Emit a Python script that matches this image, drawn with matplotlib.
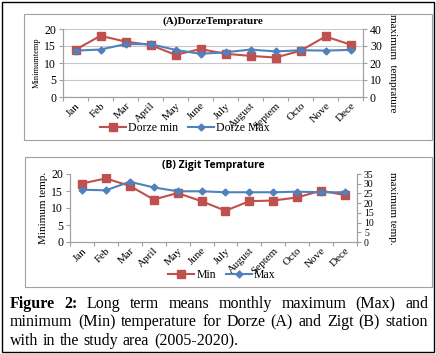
import matplotlib
matplotlib.use("Agg")
import matplotlib.pyplot as plt
from matplotlib.patches import Rectangle

months = ["Jan", "Feb", "Mar", "April", "May", "June", "July", "August",
          "Septem", "Octo", "Nove", "Dece"]

# (A) Dorze station
dorze_min = [13.9, 18.0, 16.3, 15.3, 12.4, 14.1, 12.7, 12.1, 11.6, 13.6, 17.8, 15.4]
dorze_max = [27.3, 27.9, 31.1, 31.1, 27.7, 25.4, 26.3, 27.9, 26.8, 27.5, 27.3, 27.7]

# (B) Zigit station
zigit_min = [17.2, 18.7, 16.5, 12.5, 14.4, 12.0, 9.2, 12.0, 12.2, 13.1, 15.1, 13.8]
zigit_max = [26.9, 26.6, 31.0, 28.1, 26.1, 26.1, 25.6, 25.6, 25.6, 25.9, 25.6, 25.6]

RED = "#C0504D"
BLUE = "#4F81BD"
GREY = "#A0A0A0"
SERIF = "Liberation Serif"

W, H = 436, 354
fig = plt.figure(figsize=(W / 100, H / 100), dpi=100)


def px_axes(x0, y0, x1, y1):
    return fig.add_axes([x0 / W, 1 - y1 / H, (x1 - x0) / W, (y1 - y0) / H])


def box(x0, y0, x1, y1, color, lw):
    fig.patches.append(Rectangle((x0 / W, 1 - y1 / H), (x1 - x0) / W, (y1 - y0) / H,
                                 transform=fig.transFigure, fill=False,
                                 edgecolor=color, linewidth=lw))


def panel(ax, mins, maxs, rmax, rstep, grid, min_lab, max_lab, title, tfont,
          tsize, lab_size, lx, rx, rsize):
    x = range(len(months))
    ax2 = ax.twinx()
    l1, = ax.plot(x, mins, color=RED, lw=1.5, marker="s", ms=5.5, zorder=3)
    l2, = ax2.plot(x, maxs, color=BLUE, lw=1.5, marker="D", ms=3.5, zorder=3)
    ax.set_xlim(-0.5, 11.5)
    ax.set_ylim(0, 20)
    ax.set_yticks(range(0, 21, 5))
    ax2.set_ylim(0, rmax)
    ax2.set_yticks(range(0, rmax + 1, rstep))
    ax.set_xticks([i + 0.5 for i in range(-1, 12)], minor=False)
    ax.set_xticklabels([])
    ax.set_xticks(list(x), minor=True)
    ax.set_xticklabels(months, minor=True, rotation=45, ha="right",
                       rotation_mode="anchor", fontsize=8, family=SERIF)
    ax.tick_params(axis="x", which="minor", length=0, pad=3)
    ax.tick_params(axis="x", which="major", length=3, color=GREY)
    ax.tick_params(axis="y", length=3, color=GREY, labelsize=8.5, pad=2)
    ax2.tick_params(axis="y", length=3, color=GREY, labelsize=rsize, pad=2)
    for lab in ax.get_yticklabels() + ax2.get_yticklabels():
        lab.set_family(SERIF)
    if grid:
        ax.yaxis.grid(True, color="#C8C8C8", lw=0.8)
    for a in (ax, ax2):
        a.spines["top"].set_visible(False)
        for s in ("left", "right", "bottom"):
            a.spines[s].set_color(GREY)
    ax.set_ylabel(min_lab, family=SERIF, fontsize=lab_size, va="center", ha="center")
    ax.yaxis.set_label_coords(lx, 0.5)
    ax2.set_ylabel(max_lab, family=SERIF, fontsize=8, rotation=-90,
                   va="center", ha="center")
    ax2.yaxis.set_label_coords(rx, 0.5)
    ax.set_title(title, fontsize=tsize, fontweight="bold", family=tfont, pad=4)
    return l1, l2


# panel A
box(24, 14, 432, 140, GREY, 0.8)
axA = px_axes(63, 29, 363, 97)
a1, a2 = panel(axA, dorze_min, dorze_max, 40, 10, True, "Minimumtemp",
               "maximum  temprature", "(A)DorzeTemprature", SERIF, 8, 6,
               -0.087, 1.097, 8.5)
fig.legend([a1, a2], ["Dorze min", "Dorze Max"], loc="center",
           bbox_to_anchor=(185 / W, 1 - 128 / H), ncol=2, frameon=False,
           prop={"family": SERIF, "size": 8.5}, handlelength=2.2,
           columnspacing=0.8, handletextpad=0.2, borderaxespad=0)

# panel B
box(25, 157, 432, 287, GREY, 0.8)
axB = px_axes(70, 174, 357, 242)
b1, b2 = panel(axB, zigit_min, zigit_max, 35, 5, False, "Minimum temp.",
               "maximum temp.", "(B) Zigit Temprature", "Open Sans", 7.5, 8,
               -0.094, 1.125, 7)
fig.legend([b1, b2], ["Min", "Max"], loc="center",
           bbox_to_anchor=(222 / W, 1 - 275 / H), ncol=2, frameon=False,
           prop={"family": SERIF, "size": 8.5}, handlelength=2.2,
           columnspacing=0.8, handletextpad=0.2, borderaxespad=0)

# outer frame
box(2, 2, 434, 352, "black", 1.0)

# caption, justified by hand
caption = [
    "Figure 2: Long term means monthly maximum (Max) and",
    "minimum (Min) temperature for Dorze (A) and Zigt (B) station",
    "with in the study area (2005-2020).",
]
fig.canvas.draw()
renderer = fig.canvas.get_renderer()
left, right = 10, 428
for li, line in enumerate(caption):
    y = 1 - (304 + li * 18.5) / H
    words = line.split(" ")
    texts = []
    for wi, w in enumerate(words):
        bold = li == 0 and wi < 2
        t = fig.text(0, y, w, fontsize=11.5, family=SERIF, va="center",
                     fontweight="bold" if bold else "normal")
        texts.append(t)
    widths = [t.get_window_extent(renderer).width for t in texts]
    if li < 2:
        gap = (right - left - sum(widths)) / (len(words) - 1)
    else:
        gap = 4.5
    xpos = left
    for t, w in zip(texts, widths):
        t.set_x(xpos / W)
        xpos += w + gap

fig.savefig("out.png", dpi=100)
